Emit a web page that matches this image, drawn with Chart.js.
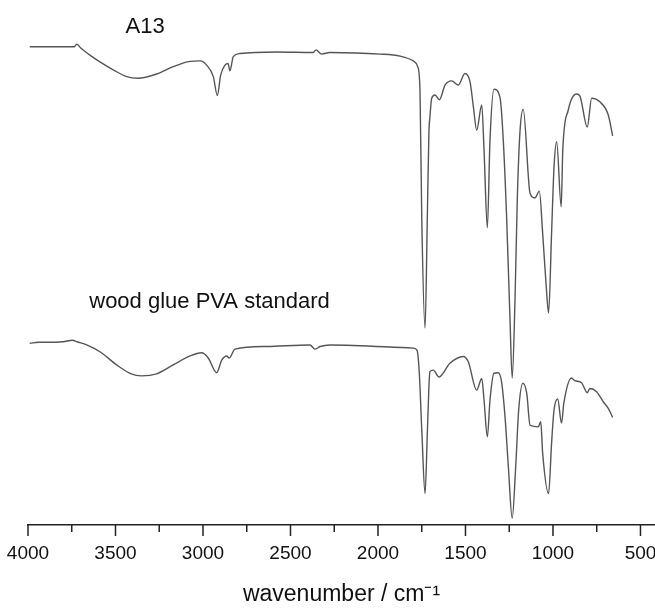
<!DOCTYPE html>
<html>
<head>
<meta charset="utf-8">
<script src="https://cdn.jsdelivr.net/npm/chart.js@4.4.1/dist/chart.umd.min.js"></script>
<style>
  html, body { margin: 0; padding: 0; background: #fff; overflow: hidden; }
  #wrap { width: 655px; height: 608px; }
</style>
</head>
<body>
<div id="wrap"><canvas id="irChart"></canvas></div>
<script>
// FTIR spectra, transmittance in arbitrary offset units
const a13Wavenumber = [3990, 3850, 3735, 3722, 3700, 3646, 3598, 3513, 3436, 3370, 3265, 3170, 3074, 3017,
    2979, 2941, 2918, 2899, 2874, 2857, 2846, 2827, 2789, 2579, 2370, 2354, 2322, 2274, 1989, 1874, 1798,
    1773, 1760, 1750, 1731, 1718, 1709, 1703, 1693, 1674, 1649, 1617, 1579, 1541, 1503, 1474, 1455, 1436,
    1407, 1394, 1375, 1360, 1337, 1303, 1284, 1265, 1246, 1233, 1217, 1204, 1189, 1170, 1131, 1103, 1078,
    1059, 1040, 1025, 1008, 994, 979, 953, 944, 913, 865, 846, 804, 779, 732, 684, 659];
const a13Trans = [91.1, 91.1, 91.1, 91.6, 90.9, 89.5, 88.4, 86.7, 85.4, 85.1, 85.9, 87.3, 88.3, 88.4,
    87.6, 85.4, 81.8, 85.7, 87.6, 87.9, 86.5, 89.2, 89.8, 90.1, 90.0, 90.5, 89.7, 90.0, 89.7, 89.3, 88.4,
    87.3, 82.9, 58.7, 37.5, 58.7, 74.7, 77.8, 81.3, 81.9, 81.0, 83.8, 84.6, 83.8, 86.0, 84.4, 79.7, 75.2,
    80.0, 71.4, 56.6, 73.3, 83.0, 81.5, 73.3, 58.7, 39.6, 28.0, 42.9, 61.9, 74.7, 79.2, 63.2, 62.3, 63.6,
    55.6, 46.1, 40.4, 55.6, 68.2, 73.0, 60.6, 71.4, 79.0, 82.1, 81.7, 75.8, 81.3, 80.6, 78.1, 74.1];

const pvaWavenumber = [3990, 3940, 3900, 3800, 3745, 3720, 3665, 3589, 3493, 3417, 3350, 3265, 3170, 3074,
    3007, 2970, 2922, 2893, 2865, 2850, 2817, 2636, 2389, 2360, 2331, 2274, 1798, 1777, 1764, 1749, 1731,
    1718, 1709, 1703, 1684, 1651, 1589, 1513, 1484, 1436, 1407, 1394, 1375, 1360, 1337, 1313, 1294, 1274,
    1255, 1233, 1213, 1196, 1172, 1150, 1131, 1084, 1070, 1059, 1025, 1008, 994, 973, 951, 938, 894, 875,
    837, 804, 789, 751, 713, 684, 659];
const pvaTrans = [34.6, 34.8, 34.8, 34.9, 35.2, 34.9, 34.3, 33.0, 30.5, 28.9, 28.4, 28.8, 30.5, 32.2,
    32.8, 31.8, 29.0, 31.4, 32.2, 31.8, 33.5, 34.0, 34.3, 33.5, 34.0, 34.3, 33.7, 33.3, 29.0, 17.5, 6.0,
    17.5, 26.3, 29.2, 29.5, 28.2, 30.8, 32.1, 31.1, 25.7, 27.9, 23.8, 16.8, 23.8, 28.9, 29.0, 27.3, 20.6,
    11.1, 1.3, 11.1, 21.9, 27.0, 25.1, 19.0, 18.7, 19.7, 13.7, 6.0, 15.6, 21.9, 24.0, 19.4, 23.2, 28.0, 27.5,
    27.1, 25.2, 26.0, 25.4, 23.5, 22.2, 20.5];

const xTickLabels = [4000, 3500, 3000, 2500, 2000, 1500, 1000, 500];
const minorTicks = [3750, 3250, 2750, 2250, 1750, 1250, 750];

const lineColor = "#555555";
const axisColor = "#222222";
const textColor = "#111111";
const fontFamily = '"Liberation Sans", Arial, Helvetica, sans-serif';

function toPoints(xs, ys) {
    return xs.map(function(x, i) { return { x: x, y: ys[i] }; });
}

// ticks and sample labels
const spectrumExtras = {
    id: "spectrumExtras",
    afterDraw: function(chart) {
        const ctx = chart.ctx;
        const x = chart.scales.x;
        const y = chart.scales.y;
        ctx.save();
        ctx.strokeStyle = axisColor;
        ctx.lineWidth = 1.5;
        xTickLabels.forEach(function(v) {
            const px = x.getPixelForValue(v);
            ctx.beginPath();
            ctx.moveTo(px, x.top);
            ctx.lineTo(px, x.top + 11);
            ctx.stroke();
        });
        minorTicks.forEach(function(v) {
            const px = x.getPixelForValue(v);
            ctx.beginPath();
            ctx.moveTo(px, x.top);
            ctx.lineTo(px, x.top + 7);
            ctx.stroke();
        });

        ctx.fillStyle = textColor;
        ctx.font = "22px " + fontFamily;
        ctx.textBaseline = "alphabetic";
        ctx.textAlign = "center";
        ctx.fillText("A13", x.getPixelForValue(3331), y.getPixelForValue(93.8));
        ctx.textAlign = "left";
        ctx.fillText("wood glue PVA standard", x.getPixelForValue(3650), y.getPixelForValue(41.4));
        ctx.restore();
    }
};

const ctx = document.getElementById("irChart").getContext("2d");

new Chart(ctx, {
    type: "line",
    data: {
        datasets: [{
            label: "A13",
            data: toPoints(a13Wavenumber, a13Trans),
            borderColor: lineColor,
            borderWidth: 1.4,
            pointRadius: 0,
            cubicInterpolationMode: "monotone",
            fill: false
        }, {
            label: "wood glue PVA standard",
            data: toPoints(pvaWavenumber, pvaTrans),
            borderColor: lineColor,
            borderWidth: 1.4,
            pointRadius: 0,
            cubicInterpolationMode: "monotone",
            fill: false
        }]
    },
    options: {
        responsive: true,
        maintainAspectRatio: false,
        animation: false,
        layout: {
            padding: { left: 28, right: 0, top: 0, bottom: 0 }
        },
        scales: {
            x: {
                type: "linear",
                reverse: true,
                min: 417,
                max: 4000,
                afterBuildTicks: function(scale) {
                    scale.ticks = xTickLabels.map(function(v) { return { value: v }; });
                },
                afterFit: function(scale) {
                    scale.height = 83;
                    scale.paddingLeft = 0;
                    scale.paddingRight = 0;
                },
                border: { display: true, color: axisColor, width: 1.5 },
                grid: { drawOnChartArea: false, drawTicks: false },
                ticks: {
                    autoSkip: false,
                    maxRotation: 0,
                    padding: 17,
                    color: textColor,
                    font: { family: fontFamily, size: 19 },
                    callback: function(value) { return String(value); }
                },
                title: {
                    display: true,
                    text: "wavenumber / cm\u207B\u00B9",
                    color: textColor,
                    font: { family: fontFamily, size: 23 },
                    padding: { top: 0, bottom: 0 }
                }
            },
            y: {
                display: false,
                min: 0,
                max: 100
            }
        },
        plugins: {
            legend: { display: false },
            tooltip: { enabled: false }
        }
    },
    plugins: [spectrumExtras]
});
</script>
</body>
</html>
